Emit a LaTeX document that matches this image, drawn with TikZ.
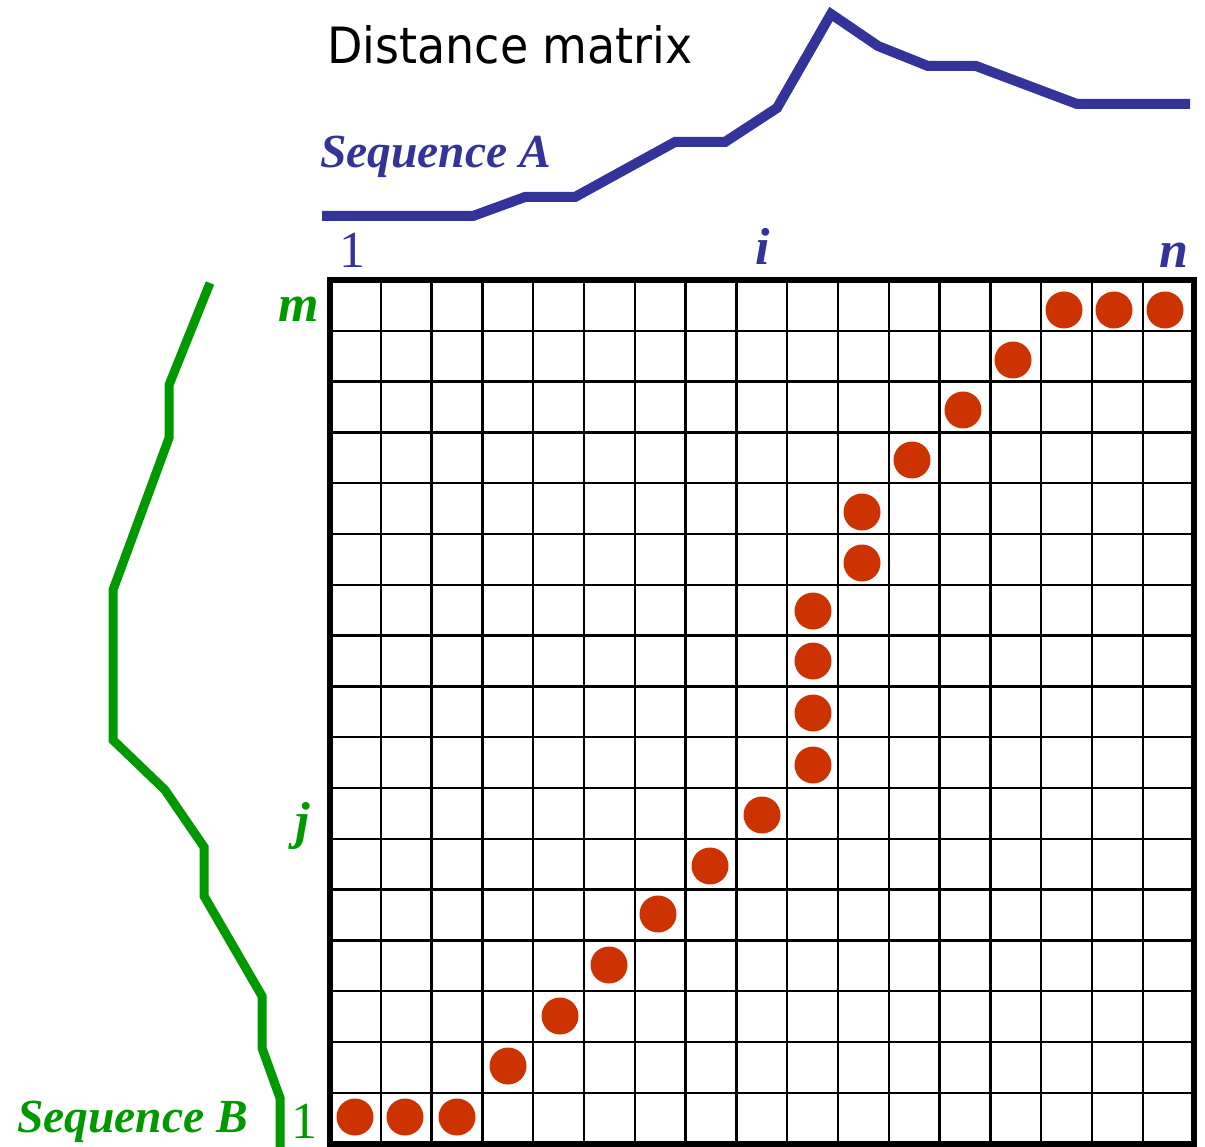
\documentclass[tikz,border=0pt]{standalone}
\usepackage{fontspec}
\setmainfont{Liberation Serif}
\newfontfamily\titlefont[FakeStretch=0.92]{DejaVu Sans}
\definecolor{seqblue}{RGB}{51,51,153}
\definecolor{seqgreen}{RGB}{0,153,0}
\definecolor{dotred}{RGB}{204,51,0}
\tikzset{
  gridline/.style={line width=2.4pt, black},
  border/.style={line width=6pt, black},
  seqa/.style={line width=10pt, seqblue},
  seqb/.style={line width=9pt, seqgreen},
  dot/.style={circle, fill=dotred, minimum size=37pt, inner sep=0pt},
  bluelab/.style={text=seqblue, inner sep=0pt, anchor=base},
  greenlab/.style={text=seqgreen, inner sep=0pt, anchor=base},
}
\begin{document}
\begin{tikzpicture}[x=1pt,y=-1pt]
\useasboundingbox[fill=white] (0,0) rectangle (1205,1147);

% grid
\foreach \k in {1,...,16}{
  \draw[gridline] ({330+50.8*\k},280) -- ({330+50.8*\k},1144);
  \draw[gridline] (330,{280+50.8*\k}) -- (1194,{280+50.8*\k});
}
\draw[border] (330,280) rectangle (1194,1144);

% warping path dots
\foreach \x/\y [count=\n] in {355/1117,405/1117,457/1117,508/1066,560/1016,609/965,658/914,710/866,762/815,813/765,813/713,813/661,813/611,862/563,862/512,912/460,963/410,1013/360,1064/310,1114/310,1165/310}{
  \node[dot] (d\n) at (\x,\y) {};
}

% sequence A
\draw[seqa] (322,216) -- (473,216) -- (525,197) -- (575,197) -- (675,142) -- (725,142)
  -- (777,108) -- (831,14) -- (878,46) -- (928,66) -- (976,66) -- (1077,104) -- (1190,104);

% sequence B
\draw[seqb] (210,283) -- (169,385) -- (169,438) -- (113,590) -- (113,740) -- (165,790)
  -- (204,847) -- (204,896) -- (262,996) -- (262,1048) -- (280,1098) -- (280,1147);

% labels
\node[anchor=base west, inner sep=0pt] (title) at (327,64)
  {\titlefont\fontsize{50}{50}\selectfont Distance matrix};
\node[anchor=base west, inner sep=0pt, text=seqblue] (seqA) at (320,168)
  {\fontsize{47.5}{47.5}\selectfont\bfseries\itshape Sequence A};
\node[anchor=base west, inner sep=0pt, text=seqgreen] (seqB) at (17,1132)
  {\fontsize{47.5}{47.5}\selectfont\bfseries\itshape Sequence B};
\node[bluelab] (a1) at (352,268) {\fontsize{52}{52}\selectfont 1};
\node[bluelab] (ai) at (763,265) {\fontsize{52}{52}\selectfont\bfseries\itshape i};
\node[bluelab] (an) at (1174,268) {\fontsize{52}{52}\selectfont\bfseries\itshape n};
\node[greenlab] (bm) at (299,322) {\fontsize{52}{52}\selectfont\bfseries\itshape m};
\node[greenlab] (bj) at (303,838) {\fontsize{52}{52}\selectfont\bfseries\itshape j};
\node[greenlab] (b1) at (304,1138) {\fontsize{52}{52}\selectfont 1};
\end{tikzpicture}
\end{document}
